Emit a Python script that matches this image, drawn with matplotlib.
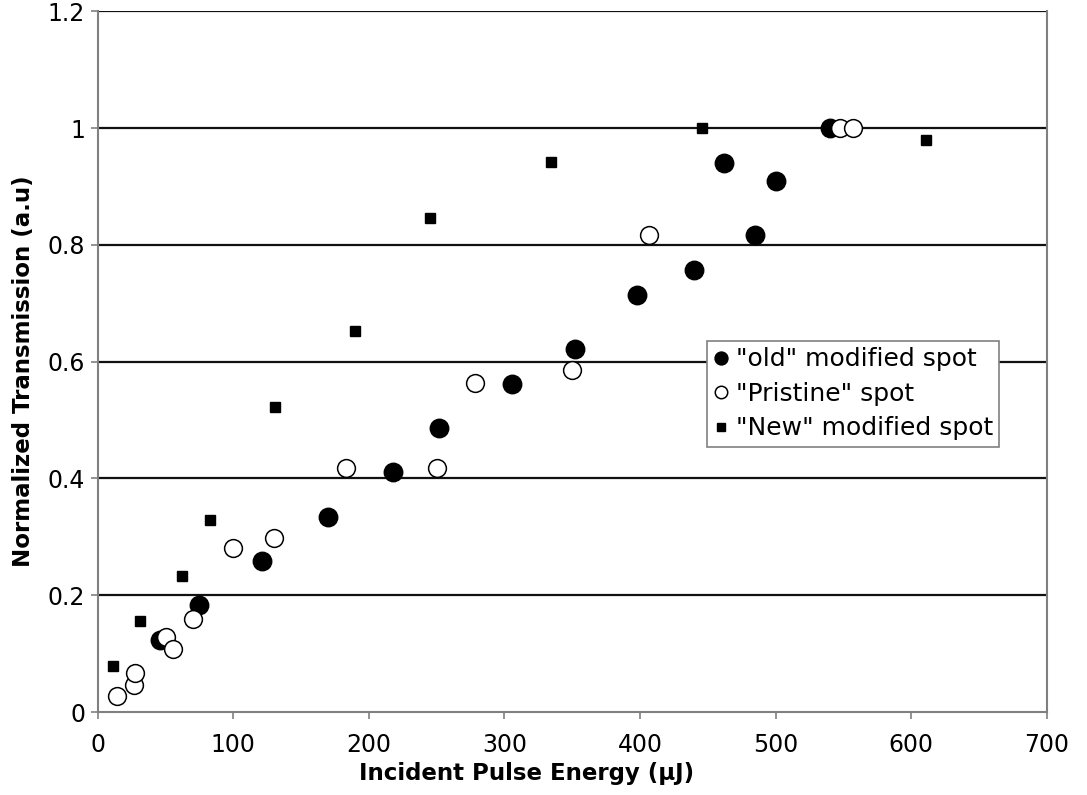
import matplotlib.pyplot as plt

# "old" modified spot (filled circles)
old_energy = [46, 75, 121, 170, 218, 252, 306, 352, 398, 440, 462, 485, 500, 540]
old_trans = [0.123, 0.183, 0.258, 0.334, 0.411, 0.487, 0.561, 0.621, 0.714,
             0.757, 0.940, 0.817, 0.909, 1.0]

# "Pristine" spot (open circles)
pristine_energy = [14.5, 27, 27.5, 50.5, 55.5, 70.5, 100, 130, 183, 250, 278,
                   350, 407, 547.5, 557]
pristine_trans = [0.027, 0.046, 0.067, 0.129, 0.108, 0.159, 0.280, 0.298,
                  0.417, 0.417, 0.563, 0.586, 0.817, 1.0, 1.0]

# "New" modified spot (squares)
new_energy = [11.3, 31.3, 62, 83, 131, 190, 245, 334.5, 445.5, 611]
new_trans = [0.079, 0.156, 0.233, 0.329, 0.522, 0.653, 0.846, 0.942, 1.0, 0.979]

xticks = [0, 100, 200, 300, 400, 500, 600, 700]
yticks = [0, 0.2, 0.4, 0.6, 0.8, 1.0, 1.2]
ytick_labels = ['0', '0.2', '0.4', '0.6', '0.8', '1', '1.2']

plt.rcParams['font.family'] = 'DejaVu Sans'

fig = plt.figure(figsize=(10.87, 7.95), dpi=100)
ax = fig.add_axes([0.0898, 0.1044, 0.8731, 0.8815])

for y in yticks[1:]:
    ax.axhline(y, color='#111111', lw=1.6, zorder=1)

ax.plot(old_energy, old_trans, 'o', ms=13.3, color='black', mec='black',
        label='"old" modified spot', zorder=3)
ax.plot(pristine_energy, pristine_trans, 'o', ms=12.8, mfc='white', mec='black',
        mew=1.1, label='"Pristine" spot', zorder=3)
ax.plot(new_energy, new_trans, 's', ms=7.9, color='black',
        label='"New" modified spot', zorder=3)

ax.set_xlim(0, 700)
ax.set_ylim(0, 1.2)
ax.set_xticks(xticks)
ax.set_yticks(yticks)
ax.set_yticklabels(ytick_labels)

for side in ['left', 'bottom', 'right']:
    ax.spines[side].set_color('#808080')
    ax.spines[side].set_linewidth(1.5)
ax.spines['top'].set_visible(False)

ax.tick_params(axis='both', direction='out', length=5, width=1.2,
               color='#808080', labelsize=17)
ax.tick_params(axis='x', pad=10)
ax.tick_params(axis='y', pad=4)

ax.set_xlabel('Incident Pulse Energy (\u03bcJ)', fontsize=16.5, fontweight='bold')
ax.xaxis.set_label_coords(0.452, -0.072)
ax.set_ylabel('Normalized Transmission (a.u)', fontsize=16.5, fontweight='bold')
ax.yaxis.set_label_coords(-0.066, 0.486)

leg = ax.legend(loc='upper left', bbox_to_anchor=(0.642, 0.5294), fontsize=18,
                markerscale=0.7, frameon=True, fancybox=False, framealpha=1,
                edgecolor='#808080', borderpad=0.25, handlelength=0.6,
                handletextpad=0.3, labelspacing=0.42, borderaxespad=0)
leg.get_frame().set_linewidth(1.2)

fig.savefig('out.png', dpi=100)
